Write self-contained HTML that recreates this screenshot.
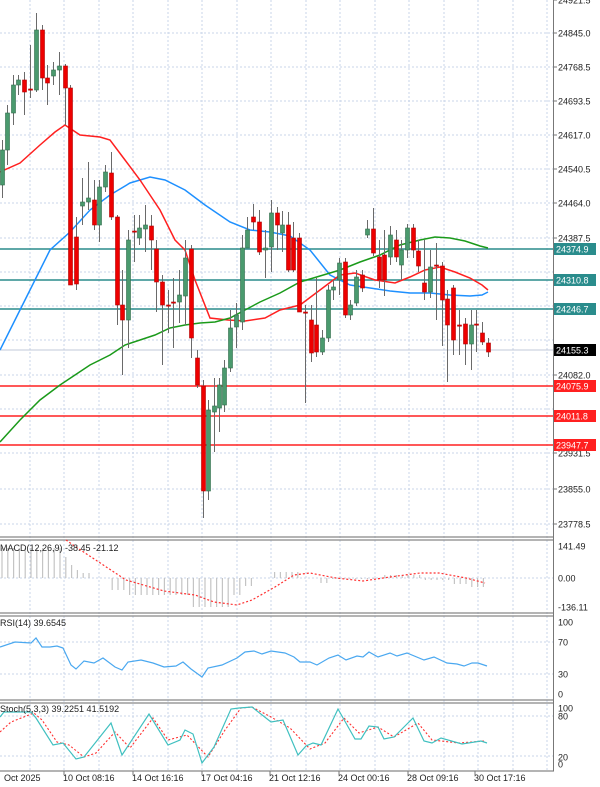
<!DOCTYPE html>
<html><head><meta charset="utf-8"><style>
html,body{margin:0;padding:0;background:#fff;}
svg{display:block;font-family:"Liberation Sans",sans-serif;}
</style></head><body>
<svg id="s" width="600" height="787" viewBox="0 0 600 787" xmlns="http://www.w3.org/2000/svg">
<rect width="600" height="787" fill="#fff"/>
<g id="grid" stroke="#c8d4e8" stroke-dasharray="2,2" stroke-width="1"></g>
<g id="hl"></g>
<g id="ma" fill="none" stroke-width="1.5">
<polyline stroke="#1e90ff" points="0,350 25,300 50,250 70,232 90,210 110,195 130,183 150,177 165,180 185,190 205,205 230,222 250,230 270,232 290,236 310,250 330,275 350,285 370,288 390,291 410,293 430,293 450,295 470,296 482,295 488,292"/>
<polyline stroke="#ff2020" points="0,172 20,163 40,145 55,132 65,125 80,135 100,137 110,140 125,160 140,180 160,210 175,240 185,250 195,280 210,318 228,320 245,321 265,318 280,310 300,305 320,290 340,275 355,273 375,280 395,283 410,277 425,270 440,267 455,272 470,278 482,285 488,290"/>
<polyline stroke="#1a9a1a" points="0,442 20,420 40,400 60,385 75,375 90,365 110,355 125,345 140,340 155,335 170,328 185,325 200,323 215,322 230,318 245,310 260,302 280,293 300,282 320,276 340,270 360,262 380,255 400,245 420,240 435,237 450,238 465,241 480,246 488,248"/>
</g>
<g id="cd"></g>
<g id="ind"></g>
<g id="axis" font-size="9" fill="#222"></g>
</svg>
<script>
var NS="http://www.w3.org/2000/svg";
function el(p,t,a,txt){var e=document.createElementNS(NS,t);for(var k in a)e.setAttribute(k,a[k]);if(txt!==undefined)e.textContent=txt;document.getElementById(p).appendChild(e);return e;}
// vertical grid
var vx=[30,64,99,133,168,202,237,271,306,340,375,409,444,478,513,547];
vx.forEach(function(x){el('grid','line',{x1:x,y1:0,x2:x,y2:771});});
var py=[33,67,101,135,169,203,238,272,306,340,375,409,453,489,524];
py.forEach(function(y){el('grid','line',{x1:0,y1:y,x2:553,y2:y});});
[578,642,674,716,756].forEach(function(y){el('grid','line',{x1:0,y1:y,x2:553,y2:y});});
// horizontal levels
[[249,'#2a8c8c'],[280,'#2a8c8c'],[309,'#2a8c8c'],[386,'#ff2020'],[416,'#ff2020'],[445,'#ff2020']].forEach(function(h){el('hl','line',{x1:0,y1:h[0],x2:553,y2:h[0],stroke:h[1],'stroke-width':1.6});});
el('hl','line',{x1:0,y1:350,x2:553,y2:350,stroke:'#c0c8d8','stroke-width':1});
// candles [x,o,c,h,l]
var C=[[2,185,150,198,140],[7,150,113,165,105],[13,113,85,125,75],[18,85,80,95,75],[24,80,92,115,72],[30,89,90,98,45],[36,90,30,92,13],[42,30,78,90,25],[47,78,83,105,65],[53,76,70,85,62],[59,70,66,95,52],[65,66,88,125,64],[70,88,285,285,85],[76,237,284,290,217],[82,206,202,225,178],[88,202,198,210,162],[94,200,225,230,180],[99,225,187,242,180],[105,187,172,192,165],[111,173,217,220,152],[117,217,305,325,215],[122,305,320,375,270],[128,320,240,348,230],[134,231,232,262,215],[139,238,228,245,215],[145,229,225,252,205],[151,226,240,270,215],[156,249,282,312,240],[162,282,305,365,275],[168,305,306,333,290],[173,302,303,348,278],[179,302,295,323,270],[185,296,258,325,240],[191,249,338,358,245],[197,358,385,388,350],[203,386,491,518,380],[208,491,410,500,400],[214,412,406,452,378],[219,408,385,432,378],[224,405,368,412,360],[230,368,328,372,310],[236,327,315,348,303],[242,322,248,330,235],[247,248,230,248,217],[253,217,222,230,204],[259,222,252,255,210],[265,250,248,278,230],[271,247,213,272,200],[277,213,225,250,207],[282,233,225,252,211],[288,225,270,272,212],[293,238,270,272,222],[299,238,312,312,233],[305,312,313,403,305],[311,320,353,362,305],[316,325,352,357,278],[322,352,338,355,330],[328,338,290,342,285],[333,290,287,300,280],[339,280,263,295,258],[345,262,315,318,258],[350,315,305,320,300],[356,303,277,306,270],[362,275,288,292,270],[367,235,229,238,220],[373,229,253,256,208],[379,257,280,288,240],[384,255,280,296,230],[390,257,235,265,226],[396,240,257,262,230],[401,265,250,280,240],[407,250,228,258,224],[413,228,250,258,224],[418,251,266,272,240],[424,283,292,300,240],[430,292,267,298,250],[436,265,266,320,243],[442,266,300,346,262],[447,299,325,382,290],[453,288,340,355,285],[459,325,326,355,310],[465,324,344,365,318],[471,344,325,370,310],[476,324,325,352,310],[482,333,342,345,322],[488,343,352,357,338]];
C.forEach(function(c){var up=c[2]<c[1];var t=Math.min(c[1],c[2]),b=Math.max(c[1],c[2]);
el('cd','line',{x1:c[0]+.5,y1:c[3],x2:c[0]+.5,y2:c[4],stroke:'#6a6a6a','stroke-width':1});
el('cd','rect',{x:c[0]-1.5,y:t,width:4,height:Math.max(b-t,1.2),fill:up?'#4a9a6e':'#ee0000',stroke:up?'#2f6b4a':'#b00000','stroke-width':.6});});
// panels separators
[[537,540],[613,616],[700,703]].forEach(function(p){el('ind','line',{x1:0,y1:p[0],x2:554,y2:p[0],stroke:'#888','stroke-width':1.2});el('ind','line',{x1:0,y1:p[1],x2:554,y2:p[1],stroke:'#888','stroke-width':1.2});});
el('ind','line',{x1:0,y1:771,x2:554,y2:771,stroke:'#888','stroke-width':1.2});
// MACD histogram
var H=[];for(var x=2;x<=488;x+=5.8){var v;
if(x<65)v=548;else if(x<71)v=557;else if(x<77)v=565;else if(x<83)v=570;else if(x<89)v=573;else if(x<108)v=578;
else if(x<125)v=590;else if(x<190)v=595;else if(x<232)v=607;else if(x<245)v=595;else if(x<255)v=586;else if(x<270)v=578;
else if(x<300)v=572;else if(x<320)v=578;else if(x<330)v=583;else if(x<380)v=579;else if(x<425)v=575;else if(x<450)v=580;else if(x<470)v=584;else v=587;
el('ind','line',{x1:x,y1:578,x2:x,y2:v,stroke:'#c4c4c4','stroke-width':1.2});}
el('ind','polyline',{points:'66,540 76,547 126,580 164,591 195,595 214,602 237,605 252,600 275,587 294,575 310,573 336,578 363,581 390,577 420,573 439,573 466,578 485,583',fill:'none',stroke:'#ff3030','stroke-width':1.2,'stroke-dasharray':'2,2'});
el('ind','text',{x:0,y:551,'font-size':9,fill:'#222'},'MACD(12,26,9) -38.45 -21.12');
// RSI
el('ind','polyline',{points:'0,647 15,642 31,643 36,638 42,647 50,647 57,646 63,648 71,665 76,669 84,661 94,663 103,658 115,667 122,670 128,662 141,660 153,663 164,667 176,666 183,662 191,669 202,677 208,668 222,665 237,658 245,652 254,651 262,654 271,651 285,653 294,657 300,662 310,662 317,665 329,658 338,655 346,660 357,656 363,657 369,652 378,657 390,653 397,656 407,653 424,660 434,657 447,663 457,664 464,666 472,663 478,663 487,666',fill:'none',stroke:'#4aa8f0','stroke-width':1.2});
el('ind','text',{x:0,y:626,'font-size':9,fill:'#222'},'RSI(14) 39.6545');
// Stoch
el('ind','polyline',{points:'0,732 11,722 34,713 42,720 57,742 69,745 84,757 96,753 115,732 130,748 153,718 168,740 187,735 208,757 225,730 241,708 252,707 271,717 290,728 310,749 325,743 344,718 359,733 378,727 394,737 418,723 432,740 459,743 485,741',fill:'none',stroke:'#ff3030','stroke-width':1.1,'stroke-dasharray':'2,2'});
el('ind','polyline',{points:'0,717 4,712 31,712 36,718 53,745 63,743 76,759 84,757 111,723 122,755 149,714 168,745 180,740 185,730 193,734 202,763 214,747 231,709 239,708 252,707 271,722 283,720 298,755 306,746 313,743 321,745 338,709 355,739 361,739 369,726 378,727 384,739 394,737 413,718 424,741 432,743 441,738 462,744 481,741 487,743',fill:'none',stroke:'#40c0c0','stroke-width':1.2});
el('ind','text',{x:0,y:712,'font-size':9,fill:'#222'},'Stoch(5,3,3) 39.2251 41.5192');
// right axis
el('axis','line',{x1:553.5,y1:0,x2:553.5,y2:771,stroke:'#777','stroke-width':1});
[[0,'24921.5'],[33,'24845.0'],[67,'24768.5'],[101,'24693.5'],[135,'24617.0'],[169,'24540.5'],[203,'24464.0'],[238,'24387.5'],[306,'24234.5'],[375,'24082.0'],[453,'23931.5'],[489,'23855.0'],[524,'23778.5']].forEach(function(t){el('axis','line',{x1:553,y1:t[0],x2:557,y2:t[0],stroke:'#777'});el('axis','text',{x:558,y:t[0]+3.5},t[1]);});
[[546,'141.49'],[578,'0.00'],[607,'-136.11'],[622,'100'],[642,'70'],[674,'30'],[694,'0'],[708,'100'],[716,'80'],[757,'20'],[764,'0']].forEach(function(t){el('axis','text',{x:558,y:t[0]+3.5},t[1]);});
[[249,'24374.9','#2a8c8c'],[280,'24310.8','#2a8c8c'],[309,'24246.7','#2a8c8c'],[350,'24155.3','#000'],[386,'24075.9','#ff2020'],[416,'24011.8','#ff2020'],[445,'23947.7','#ff2020']].forEach(function(t){el('axis','rect',{x:554,y:t[0]-6,width:42,height:12,fill:t[2]});el('axis','text',{x:556,y:t[0]+3.5,fill:'#fff'},t[1]);});
// time axis
[[4,'Oct 2025'],[63,'10 Oct 08:16'],[132,'14 Oct 16:16'],[201,'17 Oct 04:16'],[269,'21 Oct 12:16'],[338,'24 Oct 00:16'],[407,'28 Oct 09:16'],[474,'30 Oct 17:16']].forEach(function(t,i){if(i>0)el('axis','line',{x1:t[0]+1,y1:771,x2:t[0]+1,y2:775,stroke:'#777'});el('axis','text',{x:t[0],y:781},t[1]);});
</script>
</body></html>
